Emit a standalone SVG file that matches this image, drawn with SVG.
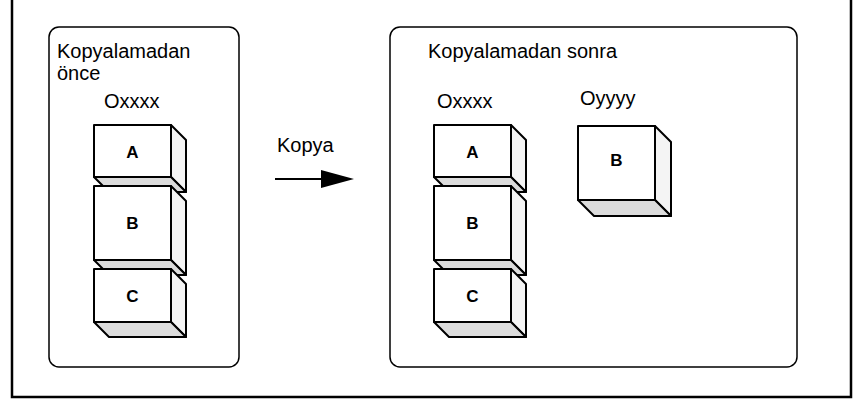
<svg xmlns="http://www.w3.org/2000/svg" width="856" height="401" viewBox="0 0 856 401">
<style>
.lbl{font-family:"Liberation Sans",Arial,sans-serif;font-size:20px;fill:#000}
.let{font-family:"Liberation Sans",Arial,sans-serif;font-size:17px;font-weight:bold;fill:#000;text-anchor:middle}
.front{fill:#fff;stroke:#000;stroke-width:2;stroke-linejoin:round}
.side{fill:#f4f4f4;stroke:#000;stroke-width:2;stroke-linejoin:round}
.bot{fill:#dcdcdc;stroke:#000;stroke-width:2;stroke-linejoin:round}
.box{fill:#fff;stroke:#000;stroke-width:1.5}
</style>
<rect x="0" y="0" width="856" height="401" fill="#fff"/>
<path d="M12,-2 V397 H851 V-2" fill="none" stroke="#000" stroke-width="2.5"/>
<g id="before">
<rect class="box" x="49" y="27" width="190" height="340" rx="10"/>
<text class="lbl" x="57" y="58">Kopyalamadan</text>
<text class="lbl" x="57" y="80">önce</text>
<text class="lbl" x="104" y="108">Oxxxx</text>
</g>
<g id="cube-A1">
<polygon class="side" points="171,125 186,140 186,192 171,177"/>
<polygon class="bot" points="94,177 171,177 186,192 109,192"/>
<rect class="front" x="94" y="125" width="77" height="52"/>
<text class="let" x="132.5" y="158">A</text>
</g>
<g id="cube-B1">
<polygon class="side" points="171,186 186,201 186,275 171,260"/>
<polygon class="bot" points="94,260 171,260 186,275 109,275"/>
<rect class="front" x="94" y="186" width="77" height="74"/>
<text class="let" x="132.5" y="229">B</text>
</g>
<g id="cube-C1">
<polygon class="side" points="171,269 186,284 186,337 171,322"/>
<polygon class="bot" points="94,322 171,322 186,337 109,337"/>
<rect class="front" x="94" y="269" width="77" height="53"/>
<text class="let" x="132.5" y="302">C</text>
</g>
<g id="after">
<rect class="box" x="390" y="27" width="407" height="340" rx="10"/>
<text class="lbl" x="428" y="58">Kopyalamadan sonra</text>
<text class="lbl" x="437" y="108">Oxxxx</text>
<text class="lbl" x="580" y="105">Oyyyy</text>
</g>
<g id="cube-A2">
<polygon class="side" points="511,125 526,140 526,192 511,177"/>
<polygon class="bot" points="434,177 511,177 526,192 449,192"/>
<rect class="front" x="434" y="125" width="77" height="52"/>
<text class="let" x="472.5" y="158">A</text>
</g>
<g id="cube-B2">
<polygon class="side" points="511,186 526,201 526,275 511,260"/>
<polygon class="bot" points="434,260 511,260 526,275 449,275"/>
<rect class="front" x="434" y="186" width="77" height="74"/>
<text class="let" x="472.5" y="229">B</text>
</g>
<g id="cube-C2">
<polygon class="side" points="511,269 526,284 526,337 511,322"/>
<polygon class="bot" points="434,322 511,322 526,337 449,337"/>
<rect class="front" x="434" y="269" width="77" height="53"/>
<text class="let" x="472.5" y="302">C</text>
</g>
<g id="cube-B3">
<polygon class="side" points="655,126 671,142 671,216 655,200"/>
<polygon class="bot" points="578,200 655,200 671,216 594,216"/>
<rect class="front" x="578" y="126" width="77" height="74"/>
<text class="let" x="616.5" y="166">B</text>
</g>
<g id="connectors">
<text class="lbl" x="277" y="152">Kopya</text>
<line x1="275" y1="179" x2="324" y2="179" stroke="#000" stroke-width="2"/>
<polygon points="321,170 354,179 321,188" fill="#000"/>
</g>
</svg>
